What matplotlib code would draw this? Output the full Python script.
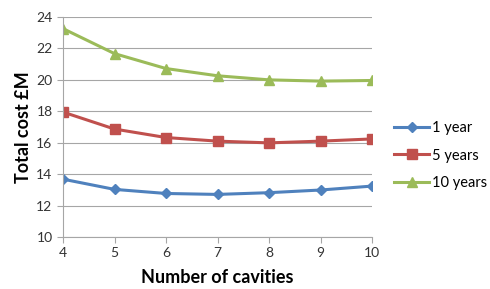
import matplotlib.pyplot as plt

cavities = [4, 5, 6, 7, 8, 9, 10]
cost_1yr = [13.68, 13.03, 12.77, 12.71, 12.82, 12.99, 13.24]
cost_5yr = [17.95, 16.87, 16.33, 16.10, 15.99, 16.10, 16.24]
cost_10yr = [23.26, 21.67, 20.72, 20.26, 20.00, 19.92, 19.96]
labels = ['1 year', '5 years', '10 years']

plt.rcParams['font.family'] = ['Lato', 'DejaVu Sans']

fig = plt.figure(figsize=(4.9, 2.89), dpi=100)
ax = fig.add_axes([63 / 490, 1 - 237 / 289, 309 / 490, 220 / 289])

ax.plot(cavities, cost_1yr, color='#4F81BD', lw=2.2, marker='D', ms=5.5, label=labels[0])
ax.plot(cavities, cost_5yr, color='#C0504D', lw=2.2, marker='s', ms=6.5, label=labels[1])
ax.plot(cavities, cost_10yr, color='#9BBB59', lw=2.2, marker='^', ms=7.5, label=labels[2])

ax.set_xlim(4, 10)
ax.set_ylim(10, 24)
ax.set_xticks(cavities)
ax.set_yticks(range(10, 25, 2))
ax.yaxis.grid(True, color='#A6A6A6', lw=0.8)
ax.set_axisbelow(True)
for s in ['top', 'right']:
    ax.spines[s].set_visible(False)
for s in ['left', 'bottom']:
    ax.spines[s].set_color('#A6A6A6')
ax.tick_params(colors='#A6A6A6', labelcolor='#333333', labelsize=10, length=4)
ax.set_xlabel('Number of cavities', fontsize=13, fontweight='bold', labelpad=7)
ax.set_ylabel('Total cost £M', fontsize=13, fontweight='bold', labelpad=3)

ax.legend(loc='center left', bbox_to_anchor=(1.03, 0.37), frameon=False, fontsize=10.5,
          handlelength=2.4, handletextpad=0.15, labelspacing=0.95)

fig.savefig('out.png', dpi=100)
